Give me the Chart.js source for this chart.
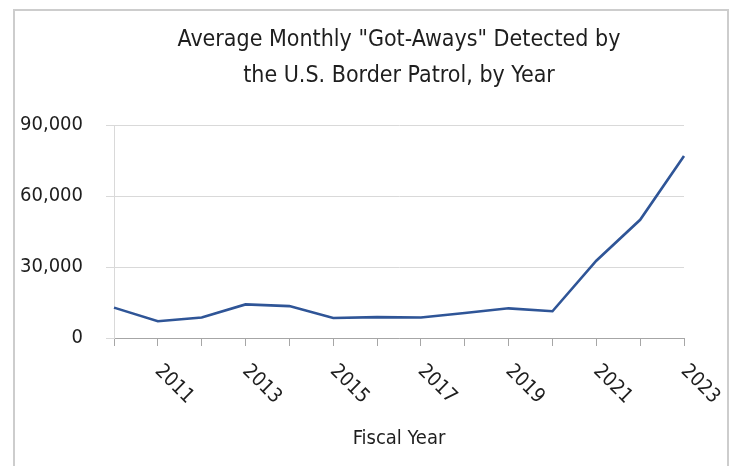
<!DOCTYPE html>
<html>
<head>
<meta charset="utf-8">
<script src="https://cdn.jsdelivr.net/npm/chart.js@4"></script>
<style>
  html, body { margin: 0; padding: 0; background: #ffffff; }
  #wrap { width: 734px; height: 466px; position: relative; }
</style>
</head>
<body>
<div id="wrap"><canvas id="c" width="734" height="466"></canvas></div>
<script>
const titleLines = ['Average Monthly "Got-Aways" Detected by', 'the U.S. Border Patrol, by Year'];
const xAxisTitle = 'Fiscal Year';
const years = ['2010','2011','2012','2013','2014','2015','2016','2017','2018','2019','2020','2021','2022','2023'];
const gotAways = [12850, 7100, 8650, 14200, 13500, 8450, 8850, 8700, 10600, 12550, 11300, 32700, 50000, 77000];
const xTickLabels = ['2011','2013','2015','2017','2019','2021','2023'];
const yTickValues = [0, 30000, 60000, 90000];

const FONT = "'Liberation Sans Narrow', 'DejaVu Sans Condensed', 'Roboto Condensed', sans-serif";
const TEXT = '#1e1e1e';

const framePlugin = {
  id: 'frame',
  beforeDraw(chart) {
    const ctx = chart.ctx;
    ctx.save();
    ctx.fillStyle = '#ffffff';
    ctx.fillRect(0, 0, chart.width, chart.height);
    ctx.strokeStyle = '#cdcdcd';
    ctx.lineWidth = 2;
    ctx.strokeRect(14, 10, 714, 500);
    ctx.restore();
  }
};

const slantLabels = {
  id: 'slantLabels',
  afterDraw(chart) {
    const xs = chart.scales.x;
    const ctx = chart.ctx;
    ctx.save();
    ctx.font = '20px ' + FONT;
    ctx.fillStyle = TEXT;
    ctx.textAlign = 'left';
    ctx.textBaseline = 'middle';
    xTickLabels.forEach(lbl => {
      const i = years.indexOf(lbl);
      const x = xs.getPixelForValue(i);
      const y = xs.top + 30;
      ctx.save();
      ctx.translate(x, y);
      ctx.rotate(Math.PI / 4);
      ctx.fillText(lbl, 0, 0);
      ctx.restore();
    });
    ctx.restore();
  }
};

new Chart(document.getElementById('c'), {
  type: 'line',
  data: {
    labels: years,
    datasets: [{
      data: gotAways,
      borderColor: '#2f5597',
      borderWidth: 2.6,
      pointRadius: 0,
      tension: 0,
      fill: false
    }]
  },
  options: {
    responsive: false,
    animation: false,
    layout: { padding: { left: 0, right: 50, top: 0, bottom: 0 } },
    plugins: {
      legend: { display: false },
      tooltip: { enabled: false },
      title: {
        display: true,
        text: titleLines,
        fullSize: false,
        color: TEXT,
        font: { family: FONT, size: 23, weight: 'normal', lineHeight: 1.57 },
        padding: { top: 22, bottom: 31 }
      }
    },
    scales: {
      x: {
        type: 'category',
        offset: false,
        afterFit(s) { s.height = 128; },
        grid: { drawOnChartArea: false, drawTicks: true, tickLength: 8, color: '#a6a6a6', lineWidth: 1 },
        border: { display: true, color: '#a6a6a6', width: 1 },
        ticks: { display: false },
        title: {
          display: true,
          text: xAxisTitle,
          color: TEXT,
          font: { family: FONT, size: 20, weight: 'normal', lineHeight: 1.2 },
          padding: { top: 0, bottom: 15 }
        }
      },
      y: {
        min: 0,
        max: 90000,
        afterFit(s) { s.width = 114; },
        afterBuildTicks(s) { s.ticks = yTickValues.map(v => ({ value: v })); },
        grid: { color: '#d9d9d9', lineWidth: 1, tickLength: 8, drawTicks: true },
        border: { display: true, color: '#d9d9d9', width: 1 },
        ticks: {
          color: TEXT,
          padding: 23,
          font: { family: FONT, size: 20 },
          callback: v => Number(v).toLocaleString('en-US')
        }
      }
    }
  },
  plugins: [framePlugin, slantLabels]
});
</script>
</body>
</html>
